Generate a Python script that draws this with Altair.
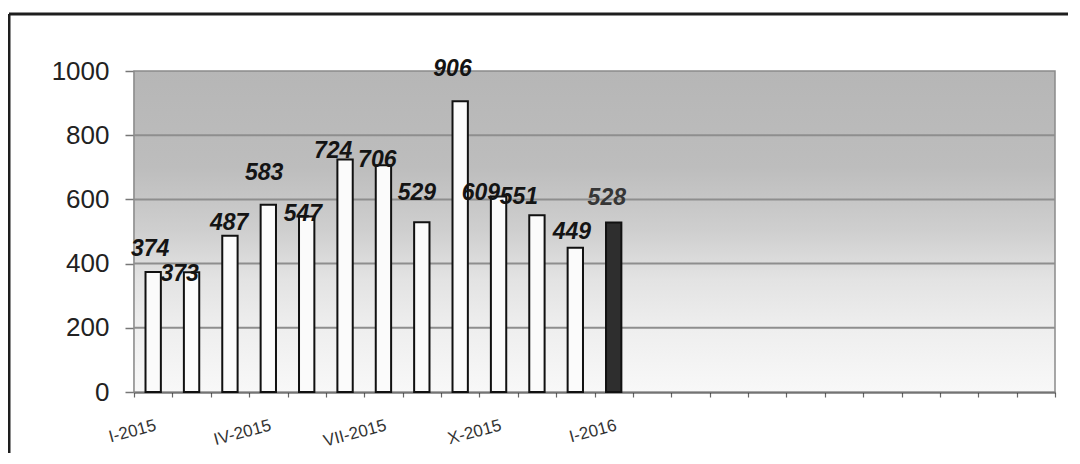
import altair as alt
import pandas as pd

# ---------------- data ----------------
months = ["I-2015", "II-2015", "III-2015", "IV-2015", "V-2015", "VI-2015",
          "VII-2015", "VIII-2015", "IX-2015", "X-2015", "XI-2015", "XII-2015",
          "I-2016", "II-2016", "III-2016", "IV-2016", "V-2016", "VI-2016",
          "VII-2016", "VIII-2016", "IX-2016", "X-2016", "XI-2016", "XII-2016"]
values = [374, 373, 487, 583, 547, 724, 706, 529, 906, 609, 551, 449, 528]
current = [False] * 12 + [True]
# where each value label sits (value units) and its sideways shift (fraction of a month slot)
label_y = [447, 367, 527, 682, 556, 751, 724, 620, 1007, 620, 607, 499, 603]
label_shift = [-0.08, -0.31, -0.02, -0.11, -0.10, -0.31, -0.16, -0.13, -0.20,
               -0.46, -0.47, -0.09, -0.18]
y_ticks = [0, 200, 400, 600, 800, 1000]
grid_values = [200, 400, 600, 800]
labelled_slots = [0, 3, 6, 9, 12]

n_slots = len(months)
FONT = "Liberation Sans"
WIDTH, HEIGHT = 921, 321

bars = pd.DataFrame({
    "slot": list(range(len(values))),
    "month": months[:len(values)],
    "value": values,
    "current": current,
    "label_y": label_y,
    "shift": label_shift,
})
frame_df = pd.DataFrame({"x0": [0], "x1": [n_slots], "y0": [0], "y1": [1000]})
grid_df = pd.DataFrame({"g": grid_values})

xscale = alt.Scale(domain=[0, n_slots], nice=False, zero=False)
yscale = alt.Scale(domain=[0, 1000], nice=False)

# month name shown for every third slot, placed at the slot centre
label_expr = "".join(f"datum.value == {s} ? '{months[s]}' : " for s in labelled_slots) + "''"
x_axis = alt.Axis(
    values=list(range(n_slots + 1)),
    tickCount=100,
    labelExpr=label_expr,
    labelOffset=WIDTH / n_slots / 2,
    title=None, grid=False, tickSize=5, tickColor="#666666", tickWidth=1.2,
    domainColor="#333333", domainWidth=2,
    labelAngle=-15, labelAlign="right", labelBaseline="top", labelPadding=20,
    labelFont=FONT, labelFontSize=17, labelColor="#333333",
    labelOverlap=False, labelFlush=False, labelBound=False,
)
y_axis = alt.Axis(
    values=y_ticks, format="d", title=None, grid=False, tickSize=9,
    tickColor="#777777", tickWidth=1.5, domainColor="#777777", domainWidth=1.5,
    labelFont=FONT, labelFontSize=26, labelColor="#222222", labelPadding=16,
)

gradient = alt.Gradient(
    gradient="linear", x1=0, x2=0, y1=0, y2=1,
    stops=[
        alt.GradientStop(offset=0.0, color="#b6b6b6"),
        alt.GradientStop(offset=0.3, color="#bdbdbd"),
        alt.GradientStop(offset=0.5, color="#cfcfcf"),
        alt.GradientStop(offset=0.65, color="#e3e3e3"),
        alt.GradientStop(offset=0.8, color="#eeeeee"),
        alt.GradientStop(offset=1.0, color="#f8f8f8"),
    ],
)

background = alt.Chart(frame_df).mark_rect(
    fill=gradient, stroke="#8a8a8a", strokeWidth=1.5
).encode(
    x=alt.X("x0:Q", scale=xscale, axis=x_axis),
    x2="x1:Q",
    y=alt.Y("y0:Q", scale=yscale, axis=y_axis),
    y2="y1:Q",
)

grid = alt.Chart(grid_df).mark_rule(color="#8e8e8e", strokeWidth=2).encode(
    y=alt.Y("g:Q", scale=yscale)
)

bar_layer = alt.Chart(bars).transform_calculate(
    x0="datum.slot + 0.3", x1="datum.slot + 0.7"
).mark_bar(stroke="#111111", strokeWidth=2).encode(
    x=alt.X("x0:Q", scale=xscale),
    x2="x1:Q",
    y=alt.Y("value:Q", scale=yscale),
    y2=alt.datum(0),
    fill=alt.condition("datum.current", alt.value("#2e2e2e"), alt.value("#fbfbfb")),
)

text_layer = alt.Chart(bars).transform_calculate(
    xl="datum.slot + 0.5 + datum.shift"
).mark_text(
    font=FONT, fontSize=23, fontWeight="bold", fontStyle="italic",
    baseline="middle", align="center"
).encode(
    x=alt.X("xl:Q", scale=xscale),
    y=alt.Y("label_y:Q", scale=yscale),
    text="value:Q",
    color=alt.condition("datum.current", alt.value("#363636"), alt.value("#141414")),
)

# decorative outer frame (top and left edges of the picture's border)
frame_top = alt.Chart(frame_df).mark_rule(color="#1e1e1e", strokeWidth=3).encode(
    x=alt.value(-125), x2=alt.value(960), y=alt.value(-57), y2=alt.value(-57)
)
frame_left = alt.Chart(frame_df).mark_rule(color="#1e1e1e", strokeWidth=3).encode(
    x=alt.value(-125), x2=alt.value(-125), y=alt.value(-57), y2=alt.value(420)
)

chart = alt.layer(
    background, grid, bar_layer, text_layer, frame_top, frame_left
).properties(
    width=WIDTH, height=HEIGHT,
    autosize=alt.AutoSizeParams(type="none"),
    padding={"left": 126, "top": 63, "right": 13, "bottom": 61},
    background="white",
).configure_view(stroke=None)

chart.save("out.html", embed_options={"renderer": "svg", "actions": False})
